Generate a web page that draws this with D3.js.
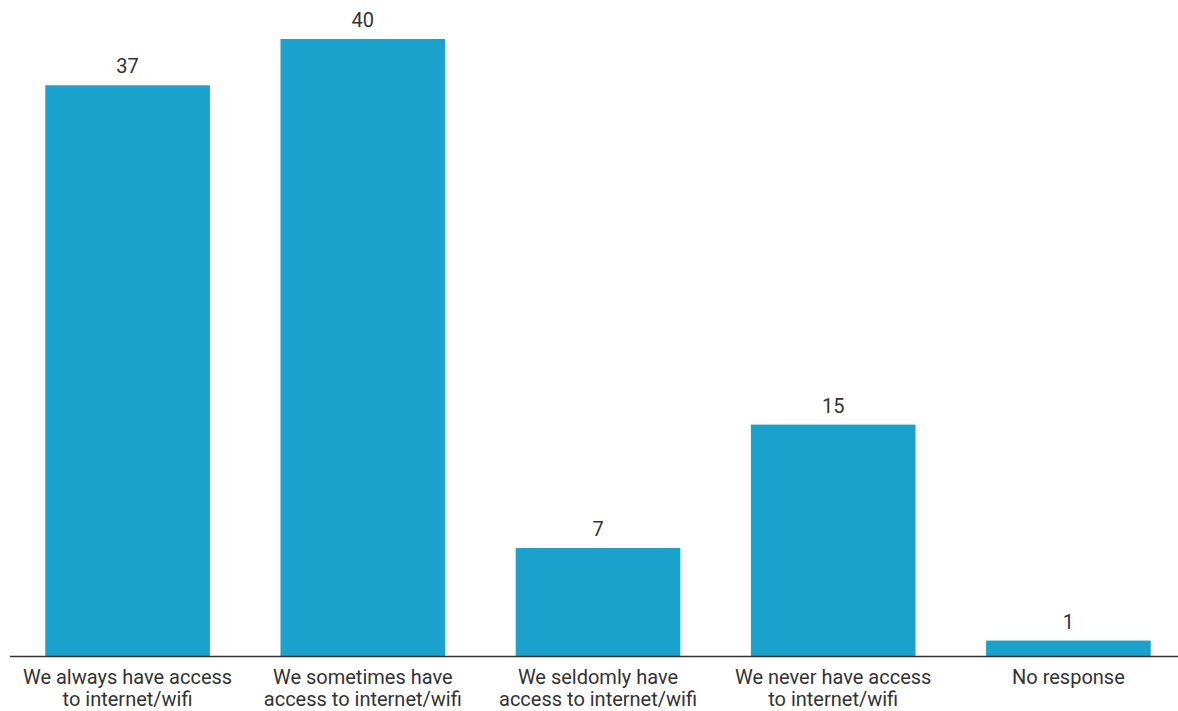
<!DOCTYPE html>
<html>
<head>
<meta charset="utf-8">
<script src="https://cdn.jsdelivr.net/npm/d3@7"></script>
<style>
  html, body { margin: 0; padding: 0; background: #fff; overflow: hidden; }
  svg { display: block; font-family: Roboto, "Noto Sans", sans-serif; }
</style>
</head>
<body>
<svg id="chart" width="1178" height="711"></svg>
<script>
const categories = [
  ["We always have access", "to internet/wifi"],
  ["We sometimes have", "access to internet/wifi"],
  ["We seldomly have", "access to internet/wifi"],
  ["We never have access", "to internet/wifi"],
  ["No response"]
];
const values = [37, 40, 7, 15, 1];
const yDomain = [0, 40];

const svg = d3.select("#chart");
const baseline = 656;
const ids = categories.map((c, i) => i);

const x = d3.scaleBand()
  .domain(ids)
  .range([10, 1186])
  .paddingInner(0.3)
  .paddingOuter(0.15);

const y = d3.scaleLinear().domain(yDomain).range([baseline, 39]);

const color = "#1aa1cc";
const textColor = "#333333";
const fontSize = 20;

svg.append("g").selectAll("rect")
  .data(values)
  .join("rect")
  .attr("x", (d, i) => x(i))
  .attr("width", x.bandwidth())
  .attr("y", d => y(d))
  .attr("height", d => y(0) - y(d))
  .attr("fill", color);

svg.append("g").selectAll("text")
  .data(values)
  .join("text")
  .attr("x", (d, i) => x(i) + x.bandwidth() / 2)
  .attr("y", d => y(d) - 12)
  .attr("text-anchor", "middle")
  .attr("font-size", fontSize)
  .attr("fill", textColor)
  .text(d => d);

// x axis
const axis = d3.axisBottom(x).tickSize(0).tickFormat("");
const axisG = svg.append("g")
  .attr("transform", `translate(0,${baseline})`)
  .call(axis);
axisG.select(".domain").remove();
svg.append("line")
  .attr("x1", 10).attr("x2", 1178)
  .attr("y1", baseline + 0.5).attr("y2", baseline + 0.5)
  .attr("stroke", textColor)
  .attr("stroke-width", 1.5);

const labels = svg.append("g").selectAll("text")
  .data(categories)
  .join("text")
  .attr("text-anchor", "middle")
  .attr("font-size", fontSize)
  .attr("fill", textColor);
labels.each(function(lines, i) {
  const t = d3.select(this);
  lines.forEach((ln, j) => {
    t.append("tspan")
      .attr("x", x(i) + x.bandwidth() / 2)
      .attr("y", 683.5 + j * 22.5)
      .text(ln);
  });
});
</script>
</body>
</html>
